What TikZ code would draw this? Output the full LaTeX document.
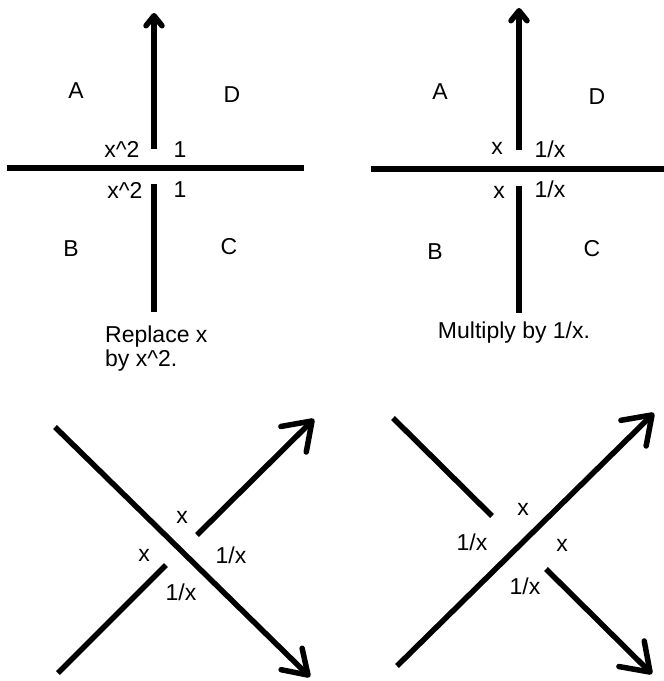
\documentclass[tikz,border=0pt]{standalone}
\usepackage{fontspec}
\setmainfont{Liberation Sans}
\usetikzlibrary{arrows.meta}
\begin{document}
\begin{tikzpicture}[x=1pt,y=-1pt,
  lab/.style={inner sep=0pt, font=\fontsize{23}{24}\selectfont},
  strand/.style={line width=5.5pt},
  uparrow/.style={strand, -{Straight Barb[round,length=10pt,width=16pt]}},
  bigarrow/.style={strand, -{Straight Barb[round,length=26pt,width=36pt]}},
  midarrow/.style={strand, -{Straight Barb[round,length=23pt,width=30pt]}}]
\useasboundingbox (0,0) rectangle (664,681);

% ---------- top left ----------
\coordinate (h1a) at (7,168);
\coordinate (h1b) at (304,168);
\coordinate (v1a) at (154,149);
\coordinate (v1b) at (154,13);
\coordinate (v1c) at (154,184);
\coordinate (v1d) at (154,312);
\draw[strand] (h1a) -- (h1b);
\draw[uparrow] (v1a) -- (v1b);
\draw[strand] (v1c) -- (v1d);
\node[lab] (tlA) at (76,91) {A};
\node[lab] (tlD) at (232,95) {D};
\node[lab] (tlB) at (71,249) {B};
\node[lab] (tlC) at (229,247) {C};
\node[lab] (tlx1) at (122,149) {x\textasciicircum 2};
\node[lab] (tl11) at (180,150) {1};
\node[lab] (tlx2) at (125,190) {x\textasciicircum 2};
\node[lab] (tl12) at (180,190) {1};
\node[lab, align=left, anchor=north west] (tlcap) at (105,326) {Replace x\\by x\textasciicircum 2.};

% ---------- top right ----------
\coordinate (h2a) at (371,169);
\coordinate (h2b) at (664,169);
\coordinate (v2a) at (519,150);
\coordinate (v2b) at (519,8);
\coordinate (v2c) at (519,186);
\coordinate (v2d) at (519,313);
\draw[strand] (h2a) -- (h2b);
\draw[uparrow] (v2a) -- (v2b);
\draw[strand] (v2c) -- (v2d);
\node[lab] (trA) at (440,92) {A};
\node[lab] (trD) at (597,97) {D};
\node[lab] (trB) at (435,252) {B};
\node[lab] (trC) at (592,249) {C};
\node[lab] (trx1) at (497,148) {x};
\node[lab] (trr1) at (550,149) {1/x};
\node[lab] (trx2) at (499,192) {x};
\node[lab] (trr2) at (550,189) {1/x};
\node[lab] (trcap) at (514,333) {Multiply by 1/x.};

% ---------- bottom left ----------
\coordinate (blLa) at (55,427);
\coordinate (blLb) at (310,677);
\coordinate (blUa) at (197,535);
\coordinate (blUb) at (314,419);
\coordinate (blDa) at (58,673);
\coordinate (blDb) at (166,565);
\draw[midarrow] (blLa) -- (blLb);
\draw[bigarrow] (blUa) -- (blUb);
\draw[strand] (blDa) -- (blDb);
\node[lab] (blx1) at (182,517) {x};
\node[lab] (blx2) at (144,555) {x};
\node[lab] (blr1) at (231,555) {1/x};
\node[lab] (blr2) at (181,592) {1/x};

% ---------- bottom right ----------
\coordinate (brMa) at (397,666);
\coordinate (brMb) at (654,413);
\coordinate (brUa) at (393,418);
\coordinate (brUb) at (492,516);
\coordinate (brDa) at (546,569);
\coordinate (brDb) at (652,674);
\draw[bigarrow] (brMa) -- (brMb);
\draw[strand] (brUa) -- (brUb);
\draw[bigarrow] (brDa) -- (brDb);
\node[lab] (brx1) at (523,509) {x};
\node[lab] (brr1) at (472,542) {1/x};
\node[lab] (brx2) at (562,545) {x};
\node[lab] (brr2) at (525,586) {1/x};
\end{tikzpicture}
\end{document}
